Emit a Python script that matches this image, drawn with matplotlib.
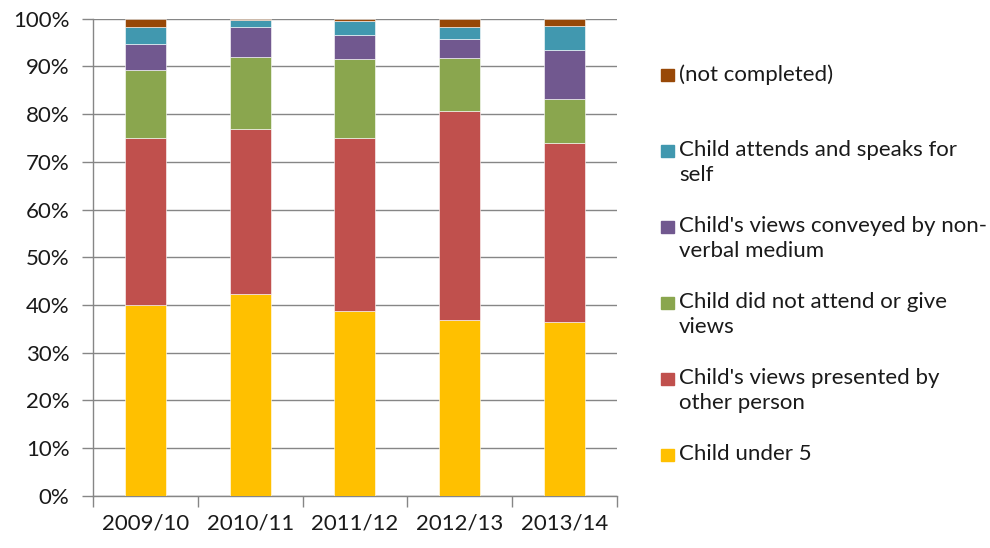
import matplotlib.pyplot as plt
from matplotlib.ticker import FixedLocator, PercentFormatter
import numpy as np

plt.rcParams['font.family'] = ['Lato', 'DejaVu Sans']

years = ["2009/10", "2010/11", "2011/12", "2012/13", "2013/14"]

# shares of hearings in percent, bottom to top of each stack
under_5 = [40.1, 42.3, 38.7, 36.9, 36.4]
other_person = [34.9, 34.6, 36.3, 43.7, 37.6]
not_attend = [14.2, 15.0, 16.6, 11.1, 9.1]
non_verbal = [5.5, 6.3, 4.9, 4.0, 10.4]
speaks_self = [3.5, 1.5, 3.0, 2.5, 4.9]
not_completed = [1.8, 0.3, 0.5, 1.8, 1.6]

series = [
    ("Child under 5", under_5, "#FFC000"),
    ("Child's views presented by\nother person", other_person, "#C0504D"),
    ("Child did not attend or give\nviews", not_attend, "#8AA64E"),
    ("Child's views conveyed by non-\nverbal medium", non_verbal, "#71588F"),
    ("Child attends and speaks for\nself", speaks_self, "#4198AF"),
    ("(not completed)", not_completed, "#984807"),
]

fig = plt.figure(figsize=(9.9, 5.48), dpi=100)
ax = fig.add_axes([0.094, 0.095, 0.529, 0.871])

x = np.arange(len(years))
bottom = np.zeros(len(years))
for label, vals, color in series:
    ax.bar(x, vals, width=0.39, bottom=bottom, color=color,
           edgecolor="white", linewidth=0.4, zorder=3)
    bottom += np.array(vals)

ax.set_xlim(-0.5, len(years) - 0.5)
ax.set_ylim(0, 100)
ax.yaxis.set_major_locator(FixedLocator(np.arange(0, 101, 10)))
ax.yaxis.set_major_formatter(PercentFormatter(decimals=0))
ax.grid(axis="y", color="#868686", linewidth=1, zorder=0)

ax.set_xticks(x)
ax.set_xticklabels(years)
ax.xaxis.set_minor_locator(FixedLocator(np.arange(-0.5, len(years), 1.0)))
ax.tick_params(axis="x", which="major", length=0, pad=13, labelsize=16, labelcolor="#1a1a1a")
ax.tick_params(axis="x", which="minor", length=8, color="#868686", width=1)
ax.tick_params(axis="y", length=8, color="#868686", width=1, pad=9, labelsize=16, labelcolor="#1a1a1a")

for side in ("top", "right"):
    ax.spines[side].set_visible(False)
for side in ("left", "bottom"):
    ax.spines[side].set_color("#868686")
    ax.spines[side].set_linewidth(1)

# legend drawn by hand, top entry first, equal-height slots
slot_top = 1 - 64 / 548
slot_step = 76 / 548
for i, (label, vals, color) in enumerate(reversed(series)):
    y = slot_top - i * slot_step
    fig.patches.append(plt.Rectangle((661 / 990, y - 17 / 548), 13 / 990, 12 / 548,
                                     transform=fig.transFigure, color=color))
    fig.text(679 / 990, y, label, fontsize=16, color="#1a1a1a",
             va="top", ha="left", linespacing=1.3)

fig.savefig("out.png", dpi=100)
